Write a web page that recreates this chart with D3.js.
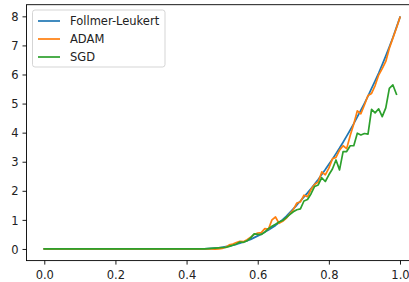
<!DOCTYPE html>
<html>
<head>
<meta charset="utf-8">
<script src="https://cdn.jsdelivr.net/npm/d3@7"></script>
<style>
  html, body { margin: 0; padding: 0; background: #fff; }
  svg { display: block; font-family: "DejaVu Sans", sans-serif; }
</style>
</head>
<body>
<svg id="chart" width="409" height="282"></svg>
<script>
// ---------- data ----------
const seriesNames = ["Follmer-Leukert", "ADAM", "SGD"];
const xValues = d3.range(0, 101).map(i => i / 100);
const zeros45 = new Array(46).fill(0); // x = 0.00 .. 0.45

const follmerTail = [ // x = 0.46 .. 1.00
  0.01, 0.02, 0.03, 0.04, 0.06, 0.08, 0.10, 0.13, 0.16, 0.20,
  0.24, 0.28, 0.33, 0.39, 0.45, 0.51, 0.58, 0.65, 0.73, 0.81,
  0.91, 1.01, 1.12, 1.25, 1.38, 1.51, 1.65, 1.79, 1.93, 2.08,
  2.23, 2.39, 2.56, 2.73, 2.91, 3.09, 3.28, 3.47, 3.67, 3.88,
  4.09, 4.31, 4.54, 4.77, 5.01, 5.26, 5.52, 5.78, 6.05, 6.34,
  6.64, 6.95, 7.27, 7.62, 7.97
];
const adamTail = [ // x = 0.46 .. 1.00
  0.00, 0.00, -0.01, 0.00, 0.02, 0.06, 0.14, 0.17, 0.22, 0.26,
  0.25, 0.32, 0.40, 0.50, 0.55, 0.56, 0.70, 0.68, 1.00, 1.10,
  0.88, 0.95, 1.05, 1.20, 1.35, 1.58, 1.62, 1.85, 1.80, 2.05,
  2.22, 2.30, 2.65, 2.55, 2.78, 3.10, 3.15, 3.40, 3.55, 3.45,
  3.90, 4.30, 4.75, 4.65, 4.95, 5.28, 5.35, 5.62, 5.98, 6.20,
  6.45, 6.90, 7.25, 7.60, 7.97
];
const sgdTail = [ // x = 0.46 .. 0.99
  0.01, 0.02, 0.03, 0.04, 0.05, 0.05, 0.09, 0.13, 0.17, 0.24,
  0.23, 0.28, 0.38, 0.52, 0.50, 0.50, 0.58, 0.70, 0.78, 0.85,
  0.93, 0.98, 1.08, 1.18, 1.28, 1.35, 1.38, 1.65, 1.70, 1.90,
  2.15, 2.20, 2.45, 2.32, 2.55, 2.75, 3.06, 2.72, 3.35, 3.35,
  3.55, 3.55, 3.98, 3.92, 3.97, 3.95, 4.80, 4.68, 4.82, 4.55,
  4.85, 5.52, 5.64, 5.32
];
const follmer = zeros45.concat(follmerTail);
const adam = zeros45.concat(adamTail);
const sgd = zeros45.concat(sgdTail);

const xTicks = [0, 0.2, 0.4, 0.6, 0.8, 1.0];
const yTicks = [0, 1, 2, 3, 4, 5, 6, 7, 8];
const colors = ["#1f77b4", "#ff7f0e", "#2ca02c"];

// ---------- drawing ----------
(function () {
  const svg = d3.select("#chart");
  const fs = 11.5;
  const L = 26.5, R = 417.8, T = 4.7, B = 260.6;

  const x = d3.scaleLinear().domain([-0.05, 1.05]).range([L, R]);
  const y = d3.scaleLinear().domain([-0.4, 8.4]).range([B, T]);

  const series = [follmer, adam, sgd];
  const line = d3.line()
    .defined(d => d[1] != null)
    .x(d => x(d[0])).y(d => y(d[1]));

  const plot = svg.append("g");
  series.forEach((vals, i) => {
    const pts = vals.map((v, k) => [xValues[k], v]);
    plot.append("path")
      .attr("d", line(pts))
      .attr("fill", "none")
      .attr("stroke", colors[i])
      .attr("stroke-width", 1.7)
      .attr("stroke-linejoin", "round")
      .attr("stroke-linecap", "square");
  });

  const xAxis = d3.axisBottom(x).tickValues(xTicks).tickFormat(d3.format(".1f"))
    .tickSize(4).tickPadding(4);
  const yAxis = d3.axisLeft(y).tickValues(yTicks).tickFormat(d3.format("d"))
    .tickSize(4).tickPadding(4);

  const gx = svg.append("g").attr("transform", `translate(0,${B})`).call(xAxis);
  const gy = svg.append("g").attr("transform", `translate(${L},0)`).call(yAxis);
  [gx, gy].forEach(g => {
    g.select(".domain").remove();
    g.selectAll(".tick line").attr("stroke", "#000").attr("stroke-width", 0.9);
    g.selectAll(".tick text").attr("fill", "#222").attr("font-size", fs)
      .attr("font-family", "DejaVu Sans, sans-serif");
  });
  gx.selectAll(".tick text").attr("dy", null).attr("y", 18.4);
  gy.selectAll(".tick text").attr("dy", "0.36em");

  svg.append("rect")
    .attr("x", L).attr("y", T)
    .attr("width", R - L).attr("height", B - T)
    .attr("fill", "none").attr("stroke", "#000").attr("stroke-width", 0.9);

  const lg = svg.append("g");
  lg.append("rect")
    .attr("x", 32.5).attr("y", 10).attr("width", 132.5).attr("height", 57)
    .attr("rx", 2.5).attr("ry", 2.5)
    .attr("fill", "#fff").attr("fill-opacity", 0.8)
    .attr("stroke", "#d0d0d0").attr("stroke-width", 0.9);
  seriesNames.forEach((name, i) => {
    const cy = 21 + i * 18;
    lg.append("line")
      .attr("x1", 38).attr("x2", 60).attr("y1", cy).attr("y2", cy)
      .attr("stroke", colors[i]).attr("stroke-width", 1.7);
    lg.append("text")
      .attr("x", 70).attr("y", cy + 4.2)
      .attr("font-size", fs).attr("fill", "#222")
      .text(name);
  });
})();
</script>
</body>
</html>
